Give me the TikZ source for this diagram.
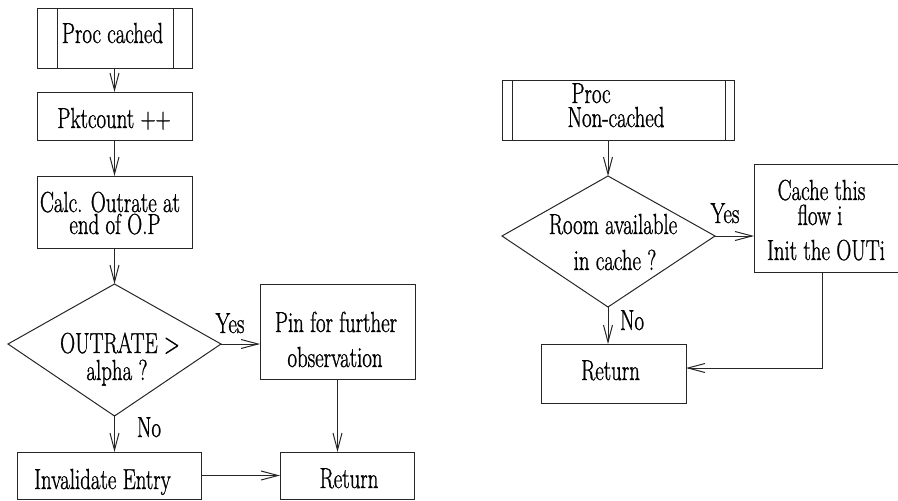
\documentclass[tikz,border=0pt]{standalone}
\usepackage{fontspec}
\usepackage{graphicx}
\newfontfamily\labelfont{Latin Modern Roman}[FakeBold=1.2]
\newcommand{\narrow}[1]{\scalebox{0.72}[1]{#1}}
\usetikzlibrary{arrows.meta,calc}

\begin{document}
\begin{tikzpicture}[x=1pt,y=-1pt,
    line width=1pt,
    box/.style={draw=black!85, rectangle, inner sep=0pt, outer sep=0pt},
    txt/.style={anchor=base, inner sep=0pt, font=\labelfont\fontsize{29}{31}\selectfont},
    arr/.style={draw=black!85, -{Straight Barb[length=17pt,width=9pt]}},
    link/.style={draw=black!85}]
  \useasboundingbox (0,0) rectangle (898,501);

  % ---------- cached-packet procedure ----------
  \node[box, minimum width=155pt, minimum height=60pt] (pc) at (114.5,38) {};
  \draw[link] (57,8) -- (57,68) (173,8) -- (173,68);
  \node[txt] (tpc) at (112.5,43) {\narrow{Proc cached}};

  \node[box, minimum width=155pt, minimum height=48pt] (pk) at (114.5,116) {};
  \node[txt] (tpk) at (114,128) {\narrow{Pktcount ++}};

  \node[box, minimum width=155pt, minimum height=72pt] (calc) at (114.5,212) {};
  \node[txt] (tc1) at (110,212) {\narrow{Calc. Outrate at}};
  \node[txt] (tc2) at (115,234) {\narrow{end of O.P}};

  % decision: OUTRATE > alpha
  \coordinate (dLt) at (114.5,284);
  \coordinate (dLl) at (8,344);
  \coordinate (dLr) at (221,344);
  \coordinate (dLb) at (114.5,416);
  \draw[link, line join=miter] (dLt) -- (dLr) -- (dLb) -- (dLl) -- cycle;
  \node[txt] (td1) at (120,353) {\narrow{OUTRATE >}};
  \node[txt] (td2) at (117,380) {\narrow{alpha ?}};
  \node[txt] (yesL) at (230,333) {\narrow{Yes}};
  \node[txt] (noL) at (149,437) {\narrow{No}};

  \node[box, minimum width=155pt, minimum height=95pt] (pin) at (337.5,331.5) {};
  \node[txt] (tp1) at (336,332) {\narrow{Pin for further}};
  \node[txt] (tp2) at (335,367) {\narrow{observation}};

  \node[box, minimum width=184pt, minimum height=47pt] (inv) at (109,475.5) {};
  \node[txt] (tinv) at (102.5,489) {\narrow{Invalidate Entry}};

  \node[box, minimum width=134pt, minimum height=47pt] (retL) at (347,475.5) {};
  \node[txt] (tretL) at (349,488) {\narrow{Return}};

  \draw[arr] (pc.south) -- (pk.north);
  \draw[arr] (pk.south) -- (calc.north);
  \draw[arr] (calc.south) -- (dLt);
  \draw[arr] (dLr) -- (dLr -| pin.west);
  \draw[arr] (dLb) -- (dLb |- inv.north);
  \draw[arr] (pin.south) -- (pin.south |- retL.north);
  \draw[arr] (inv.east) -- (retL.west);

  % ---------- non-cached-packet procedure ----------
  \node[box, minimum width=232pt, minimum height=60pt] (pnc) at (618,110) {};
  \draw[link] (512,80) -- (512,140) (725,80) -- (725,140);
  \node[txt] (tpn1) at (591,103) {\narrow{Proc}};
  \node[txt] (tpn2) at (616,127) {\narrow{Non-cached}};

  % decision: room available in cache
  \coordinate (dRt) at (608,176);
  \coordinate (dRl) at (502,236);
  \coordinate (dRr) at (715,236);
  \coordinate (dRb) at (608,307);
  \draw[link, line join=miter] (dRt) -- (dRr) -- (dRb) -- (dRl) -- cycle;
  \node[txt] (tr1) at (613,234) {\narrow{Room available}};
  \node[txt] (tr2) at (615,270) {\narrow{in cache ?}};
  \node[txt] (yesR) at (725,223) {\narrow{Yes}};
  \node[txt] (noR) at (632,330) {\narrow{No}};

  \node[box, minimum width=148pt, minimum height=108pt] (cache) at (828,218) {};
  \node[txt] (tca1) at (821.5,200) {\narrow{Cache this}};
  \node[txt] (tca2) at (820,225) {\narrow{flow i}};
  \node[txt] (tca3) at (826,260) {\narrow{Init the OUTi}};

  \node[box, minimum width=145pt, minimum height=59pt] (retR) at (613.5,373.5) {};
  \node[txt] (tretR) at (610.5,380) {\narrow{Return}};

  \draw[arr] (dRt |- pnc.south) -- (dRt);
  \draw[arr] (dRr) -- (dRr -| cache.west);
  \draw[arr] (dRb) -- (dRb |- retR.north);
  \draw[arr] ([xshift=-6pt]cache.south) |- ([yshift=5.5pt]retR.east);
\end{tikzpicture}
\end{document}
